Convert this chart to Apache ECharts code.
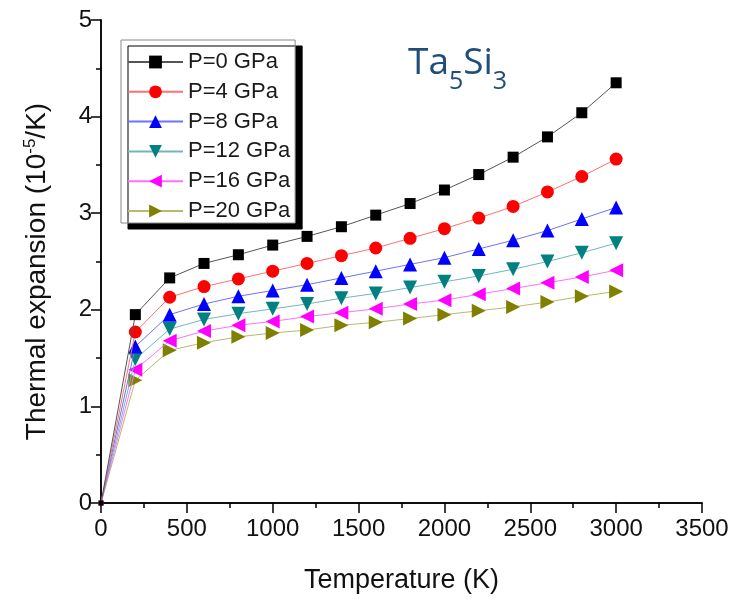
<!DOCTYPE html>
<html><head><meta charset="utf-8">
<script src="https://cdn.jsdelivr.net/npm/echarts@6/dist/echarts.min.js"></script>
<style>html,body{margin:0;padding:0;background:#fff}#c{width:741px;height:599px}</style>
</head><body><div id="c"></div>
<script>
const temps = [0,200,400,600,800,1000,1200,1400,1600,1800,2000,2200,2400,2600,2800,3000];
const seriesNames = ['P=0 GPa','P=4 GPa','P=8 GPa','P=12 GPa','P=16 GPa','P=20 GPa'];
const p0  = [0,1.95,2.33,2.48,2.57,2.67,2.76,2.86,2.98,3.10,3.24,3.40,3.58,3.79,4.04,4.35];
const p4  = [0,1.77,2.13,2.24,2.32,2.40,2.48,2.56,2.64,2.74,2.84,2.95,3.07,3.22,3.38,3.56];
const p8  = [0,1.62,1.95,2.06,2.14,2.20,2.26,2.33,2.40,2.47,2.54,2.63,2.72,2.82,2.94,3.06];
const p12 = [0,1.49,1.80,1.90,1.96,2.01,2.06,2.12,2.17,2.23,2.29,2.35,2.42,2.50,2.59,2.69];
const p16 = [0,1.38,1.68,1.78,1.84,1.88,1.93,1.97,2.01,2.06,2.10,2.16,2.22,2.28,2.34,2.41];
const p20 = [0,1.27,1.58,1.66,1.72,1.76,1.79,1.84,1.87,1.91,1.95,1.99,2.03,2.08,2.14,2.19];
const xTicks = ['0','500','1000','1500','2000','2500','3000','3500'];
const yTicks = ['0','1','2','3','4','5'];

const allData = [p0,p4,p8,p12,p16,p20];
const markerColors = ['#000000','#ff0000','#0000ff','#008080','#ff00ff','#808000'];
const lineColors = ['#555555','#ff7070','#7070ff','#70b8b8','#ff70ff','#b8b870'];
const symbols = ['rect','circle','triangle','triangle','triangle','triangle'];
const rotations = [0,0,0,180,90,-90];
const sizes = [11,13,14,14,14,14];

const FONT = '"Liberation Sans", Arial, sans-serif';
const chart = echarts.init(document.getElementById('c'), null, {renderer:'canvas'});

const series = allData.map((d,i)=>({
  name: seriesNames[i],
  type: 'line',
  xAxisIndex: 0, yAxisIndex: 0,
  data: temps.map((t,j)=> j === 0 ? {value:[t,d[j]], symbolSize: 5} : [t,d[j]]),
  symbol: symbols[i],
  symbolRotate: rotations[i],
  symbolSize: sizes[i],
  showAllSymbol: true,
  lineStyle: {color: lineColors[i], width: 1},
  itemStyle: {color: markerColors[i]},
  z: 10 - i,
  animation: false
}));

const axisLine = {show:true, lineStyle:{color:'#000', width:1.5}};
chart.setOption({
  animation: false,
  backgroundColor: '#fff',
  grid: {left:101, right:39, top:20, bottom:89, containLabel:false},
  title: {
    text: '{m|Ta}{s|5}{m|Si}{s|3}',
    left: 403, top: 40,
    textStyle: {
      rich: {
        m: {fontSize: 37, fontWeight:'normal', fontFamily: '"Open Sans", sans-serif', color:'#1f4e79', padding:[0,0,12,0], verticalAlign:'bottom'},
        s: {fontSize: 25, fontWeight:'normal', fontFamily: '"Open Sans", sans-serif', color:'#1f4e79', verticalAlign:'bottom'}
      }
    }
  },
  legend: {
    orient: 'vertical',
    left: 121, top: 40,
    padding: [11, 5, 1, 6],
    itemWidth: 55, itemHeight: 16, itemGap: 7.8,
    backgroundColor: '#fff',
    borderColor: '#888', borderWidth: 1,
    shadowColor: '#000', shadowBlur: 0, shadowOffsetX: 7, shadowOffsetY: 6,
    textStyle: {fontSize: 22, fontFamily: FONT, color:'#1a1a1a', lineHeight: 22},
    data: seriesNames
  },
  xAxis: [{
    type:'value', min:0, max:3500, interval:500, position:'bottom',
    axisLine: axisLine,
    axisTick: {show:true, inside:false, length:7, lineStyle:{color:'#000', width:1.5}},
    minorTick: {show:true, splitNumber:2, length:5, lineStyle:{color:'#000', width:1.5}},
    splitLine:{show:false},
    axisLabel: {margin:14, fontSize:24, fontFamily:FONT, color:'#111', formatter:(v)=>xTicks[Math.round(v/500)]},
    name: 'Temperature (K)', nameLocation:'middle', nameGap: 64,
    nameTextStyle: {fontSize:27, fontFamily:FONT, color:'#111'}
  },{
    type:'value', min:0, max:3500, interval:500, position:'top',
    axisLine: axisLine,
    axisTick: {show:true, inside:true, length:10, lineStyle:{color:'#000', width:1.5}},
    minorTick: {show:true, splitNumber:2, length:5, lineStyle:{color:'#000', width:1.5}},
    splitLine:{show:false}, axisLabel:{show:false}
  }],
  yAxis: [{
    type:'value', min:0, max:5, interval:1, position:'left',
    axisLine: axisLine,
    axisTick: {show:true, inside:false, length:7, lineStyle:{color:'#000', width:1.5}},
    minorTick: {show:true, splitNumber:2, length:5, lineStyle:{color:'#000', width:1.5}},
    splitLine:{show:false},
    axisLabel: {margin:9, fontSize:24, fontFamily:FONT, color:'#111', formatter:(v)=>yTicks[Math.round(v)]},
    name: '{n|Thermal expansion (10}{sup|-5}{n|/K)}', nameLocation:'middle', nameGap: 50,
    nameTextStyle: {padding:[0,20,0,0], rich:{
      n:{fontSize:28, fontFamily:FONT, color:'#111', verticalAlign:'bottom'},
      sup:{fontSize:17, fontFamily:FONT, color:'#111', verticalAlign:'bottom', padding:[0,0,12,0]}
    }}
  },{
    type:'value', min:0, max:5, interval:1, position:'right',
    axisLine: axisLine,
    axisTick: {show:true, inside:true, length:10, lineStyle:{color:'#000', width:1.5}},
    minorTick: {show:true, splitNumber:2, length:5, lineStyle:{color:'#000', width:1.5}},
    splitLine:{show:false}, axisLabel:{show:false}
  }],
  series: series
});
</script>
</body></html>
